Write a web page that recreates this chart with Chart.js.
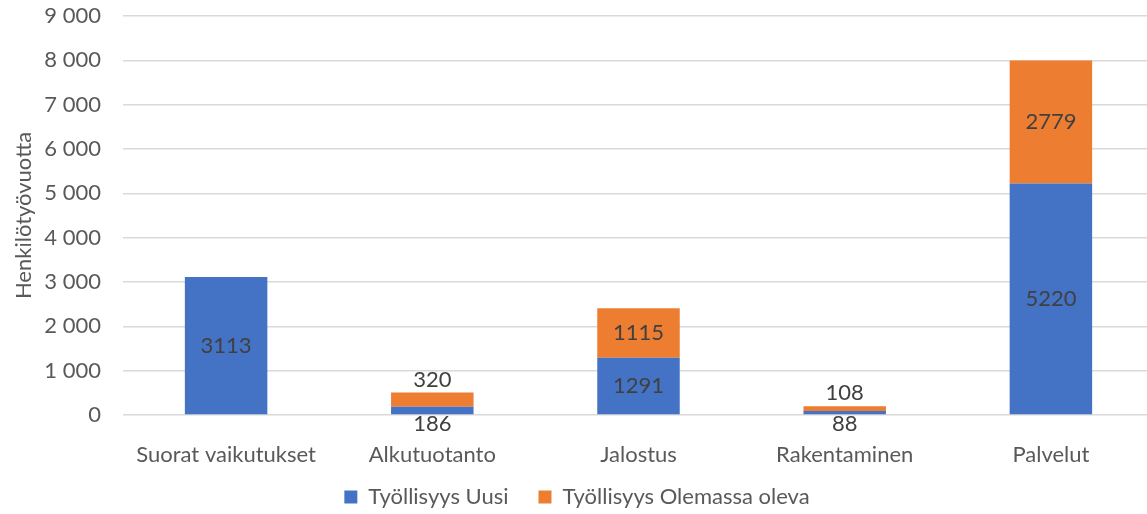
<!DOCTYPE html>
<html>
<head>
<meta charset="utf-8">
<script src="https://cdn.jsdelivr.net/npm/chart.js@4/dist/chart.umd.min.js"></script>
<style>
  html, body { margin:0; padding:0; background:#fff; overflow:hidden; }
  #wrap { width:1154px; height:514px; }
</style>
</head>
<body>
<div id="wrap"><canvas id="chart" width="1154" height="514"></canvas></div>
<script>
// ── DATA ────────────────────────────────────────────────
const categories = ['Suorat vaikutukset', 'Alkutuotanto', 'Jalostus', 'Rakentaminen', 'Palvelut'];
const uusi       = [3113, 186, 1291, 88, 5220];
const olemassa   = [null, 320, 1115, 108, 2779];
const yTicks     = [0, 1000, 2000, 3000, 4000, 5000, 6000, 7000, 8000, 9000];

const FONT = 'Lato, "Open Sans", sans-serif';
const SIZE = 22;
const fmt = v => String(v).replace(/\B(?=(\d{3})+(?!\d))/g, ' ');

// ── DATA LABELS (Excel-like: small segments pushed outside) ──
const labelPlugin = {
  id: 'labels',
  afterInit(chart) {
    // wide gaps between legend items, but a short legend box drawn a bit higher
    const lg = chart.legend, fit = lg.fit, draw = lg.draw;
    lg.fit = function () { fit.call(this); this.height = 44; };
    lg.draw = function () {
      const t = this.top;
      this.top = t - 14;
      draw.call(this);
      this.top = t;
    };
  },
  afterDatasetsDraw(chart) {
    const ctx = chart.ctx;
    ctx.save();
    ctx.font = `${SIZE}px ${FONT}`;
    ctx.fillStyle = '#404040';
    ctx.textAlign = 'center';
    ctx.textBaseline = 'middle';
    chart.data.datasets.forEach((ds, di) => {
      chart.getDatasetMeta(di).data.forEach((bar, i) => {
        const v = ds.data[i];
        if (v == null) return;
        const h = Math.abs(bar.base - bar.y);
        let y = (bar.y + bar.base) / 2;
        if (h < 30) y = di === 0 ? bar.base + 10 : bar.y - 13;
        ctx.fillText(String(v), bar.x, y);
      });
    });
    ctx.restore();
  }
};

new Chart(document.getElementById('chart'), {
  type: 'bar',
  data: {
    labels: categories,
    datasets: [
      { label: 'Työllisyys Uusi', data: uusi, backgroundColor: '#4472C4' },
      { label: 'Työllisyys Olemassa oleva', data: olemassa, backgroundColor: '#ED7D31' },
    ]
  },
  options: {
    responsive: false,
    animation: false,
    layout: { padding: { top: 16, right: 0, left: 0, bottom: 0 } },
    datasets: { bar: { categoryPercentage: 1, barPercentage: 0.4 } },
    plugins: {
      legend: {
        position: 'bottom',
        labels: { font: { family: FONT, size: SIZE }, color: '#595959', boxWidth: 13, boxHeight: 13, padding: 30 }
      },
      tooltip: { enabled: false }
    },
    scales: {
      x: {
        stacked: true,
        grid: { display: false },
        border: { display: false },
        ticks: { font: { family: FONT, size: SIZE }, color: '#595959', padding: 19 },
        afterFit: s => { s.height = 55; }
      },
      y: {
        stacked: true,
        min: 0, max: 9000,
        afterBuildTicks: s => { s.ticks = yTicks.map(v => ({ value: v })); },
        grid: { color: '#D9D9D9', lineWidth: 1.5, drawTicks: false },
        border: { display: false },
        ticks: { font: { family: FONT, size: SIZE }, color: '#595959', padding: 22, callback: v => fmt(v) },
        title: { display: true, text: 'Henkilötyövuotta', font: { family: FONT, size: SIZE }, color: '#595959', padding: { top: 11, bottom: 0 } },
        afterFit: s => { s.width = 123; s.paddingTop = 0; s.paddingBottom = 0; }
      }
    }
  },
  plugins: [labelPlugin]
});
</script>
</body>
</html>
